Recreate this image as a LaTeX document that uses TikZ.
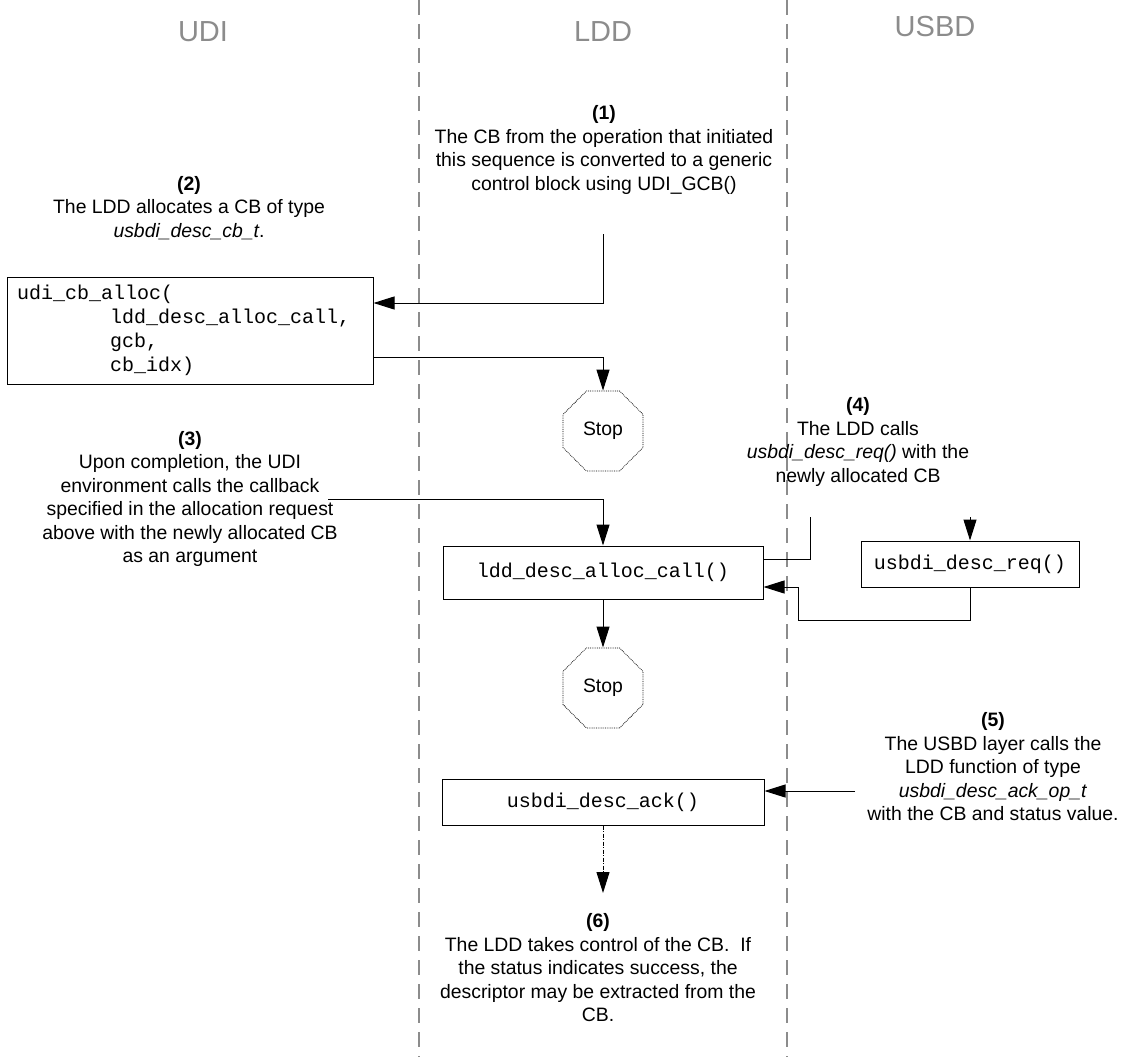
\documentclass[tikz,border=0pt]{standalone}
\usepackage{fontspec}
\setmainfont{Liberation Sans}
\setmonofont{Liberation Mono}
\usetikzlibrary{shapes.geometric,arrows.meta,positioning}

\definecolor{lanegray}{HTML}{8C8C8C}

\begin{document}
\begin{tikzpicture}[x=1pt,y=-1pt,
    lane/.style={draw=lanegray, line width=1.5pt, dash pattern=on 15pt off 9pt},
    title/.style={text=lanegray, font=\fontsize{29}{34}\selectfont},
    note/.style={align=center, inner sep=0pt, font=\fontsize{19.4}{23.5}\selectfont},
    call/.style={draw, line width=1pt, inner sep=0pt, font=\ttfamily\fontsize{20}{24}\selectfont},
    stopsign/.style={draw, densely dotted, line width=0.8pt, regular polygon, regular polygon sides=8, minimum size=86.6pt, inner sep=0pt, font=\fontsize{19.4}{23.5}\selectfont},
    flow/.style={line width=1pt, -{Triangle[length=21pt,width=13pt]}}]
\useasboundingbox (0,0) rectangle (1123,1057);
\draw[lane] (419,0) -- (419,1057);
\draw[lane] (787,0) -- (787,1057);
\node[title] (UDI) at (203,32) {UDI};
\node[title] (LDD) at (603,32) {LDD};
\node[title] (USBD) at (935,27) {USBD};
% notes
\node[note] (Note1) at (604,150) {\textbf{(1)}\\The CB from the operation that initiated\\this sequence is converted to a generic\\control block using UDI\_GCB()};
\node[note] (Note2) at (189,208) {\textbf{(2)}\\The LDD allocates a CB of type\\\textit{usbdi\_desc\_cb\_t}.};
\node[note] (Note3) at (190,499) {\textbf{(3)}\\Upon completion, the UDI\\environment calls the callback\\specified in the allocation request\\above with the newly allocated CB\\as an argument};
\node[note] (Note4) at (858,442) {\textbf{(4)}\\The LDD calls\\\textit{usbdi\_desc\_req()} with the\\newly allocated CB};
\node[note] (Note5) at (993,767) {\textbf{(5)}\\The USBD layer calls the\\LDD function of type\\\textit{usbdi\_desc\_ack\_op\_t}\\with the CB and status value.};
\node[note] (Note6) at (598,968) {\textbf{(6)}\\The LDD takes control of the CB.\ \ If\\the status indicates success, the\\descriptor may be extracted from the\\CB.};
% calls
\node[call, minimum width=366pt, minimum height=107pt, text width=346pt, align=left] (UdiAlloc) at (190,330.5) {udi\_cb\_alloc(\\\hspace*{93pt}ldd\_desc\_alloc\_call,\\\hspace*{93pt}gcb,\\\hspace*{93pt}cb\_idx)};
\node[call, minimum width=320pt, minimum height=53pt] (LddCall) at (603,572.5) {ldd\_desc\_alloc\_call()};
\node[call, minimum width=218pt, minimum height=46pt] (DescReq) at (970,564) {usbdi\_desc\_req()};
\node[call, minimum width=322pt, minimum height=46pt] (DescAck) at (603,802) {usbdi\_desc\_ack()};
\node[stopsign] (StopA) at (603,431) {Stop};
\node[stopsign, below=48pt of LddCall] (StopB) {Stop};
% free ends
\coordinate (OneEnd) at (603,234);
\coordinate (ThreeEnd) at (328,499);
\coordinate (FourEnd) at (810,517);
\coordinate (FourTip) at (970,517);
\coordinate (ReqTurn) at (798,620);
\coordinate (FiveEnd) at (855,791);
\coordinate (SixTip) at (603,893);
% connectors
\draw[flow] (OneEnd) |- ([yshift=27.5pt]UdiAlloc.east);
\draw[flow] ([yshift=-26.5pt]UdiAlloc.east) -| (StopA.north);
\draw[flow] (ThreeEnd) -| (LddCall.north);
\draw[line width=1pt] (FourEnd) |- ([yshift=13.5pt]LddCall.east);
\draw[flow] (FourTip) -- (DescReq.north);
\draw[flow] (DescReq.south) |- (ReqTurn) |- ([yshift=-14.5pt]LddCall.east);
\draw[flow] (LddCall.south) -- (StopB.north);
\draw[flow] (FiveEnd) -- (FiveEnd -| DescAck.east);
\draw[flow, dash pattern=on 4pt off 1.5pt on 1pt off 1.5pt] (DescAck.south) -- (SixTip);
\end{tikzpicture}
\end{document}
